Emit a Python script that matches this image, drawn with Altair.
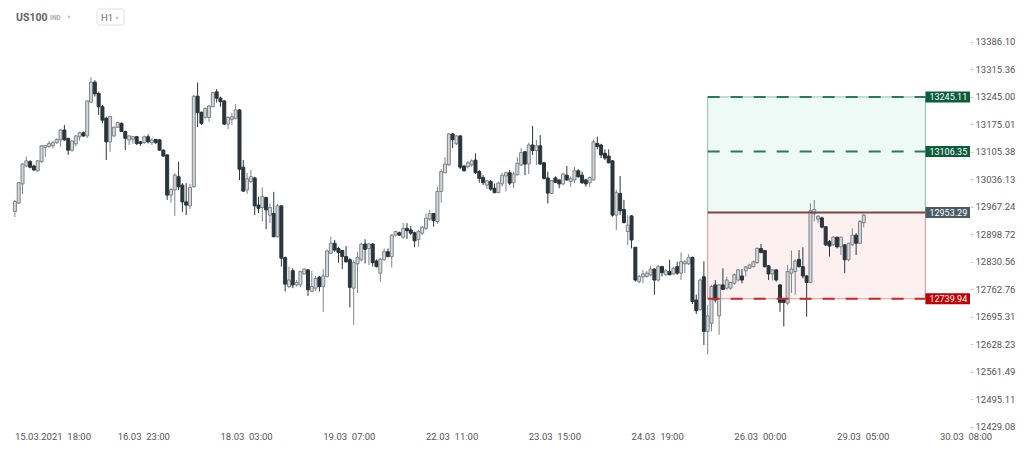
import altair as alt
import pandas as pd

# ---------------- data ----------------
opens = [12956, 12977, 13025, 13070, 13081, 13070, 13058, 13081, 13117, 13119,
         13121, 13129, 13136, 13161, 13140, 13110, 13126, 13144, 13154, 13146,
         13232, 13283, 13254, 13220, 13191, 13131, 13146, 13168, 13178, 13157,
         13136, 13138, 13144, 13131, 13129, 13144, 13129, 13137, 13136, 13110,
         13098, 12997, 13010, 13043, 13022, 12980, 12970, 13018, 13247, 13206,
         13193, 13193, 13220, 13258, 13242, 13235, 13176, 13188, 13191, 13212,
         13067, 13010, 13031, 13040, 12972, 12966, 12991, 12947, 12951, 12893,
         12970, 12841, 12770, 12809, 12774, 12774, 12801, 12811, 12758, 12766,
         12793, 12770, 12794, 12852, 12877, 12864, 12859, 12844, 12836, 12766,
         12826, 12836, 12875, 12864, 12875, 12833, 12803, 12836, 12856, 12844,
         12897, 12903, 12892, 12914, 12910, 12903, 12886, 12902, 12914, 12937,
         12951, 12931, 13006, 13053, 13073, 13151, 13126, 13146, 13070, 13068,
         13073, 13085, 13056, 13041, 13022, 13031, 13014, 13003, 13025, 13045,
         13053, 13028, 13048, 13073, 13106, 13075, 13123, 13109, 13121, 13078,
         13040, 13001, 13040, 13035, 13025, 13047, 13031, 13035, 13058, 13047,
         13035, 13028, 13035, 13127, 13123, 13102, 13095, 13083, 12947, 13001,
         12961, 12906, 12945, 12867, 12782, 12794, 12795, 12799, 12813, 12786,
         12819, 12799, 12807, 12801, 12819, 12803, 12826, 12826, 12842, 12737,
         12713, 12794, 12660, 12680, 12774, 12698, 12774, 12766, 12766, 12778,
         12786, 12796, 12809, 12815, 12819, 12829, 12864, 12859, 12821, 12801,
         12811, 12774, 12739, 12729, 12803, 12807, 12837, 12819, 12796, 12780,
         12950, 12937, 12940, 12918, 12881, 12873, 12892, 12868, 12873, 12836,
         12873, 12897, 12877, 12928]
highs = [12985, 13030, 13078, 13094, 13085, 13073, 13085, 13123, 13123, 13134,
         13134, 13140, 13163, 13174, 13141, 13136, 13148, 13157, 13157, 13237,
         13295, 13288, 13259, 13225, 13195, 13197, 13170, 13182, 13180, 13159,
         13148, 13146, 13146, 13133, 13147, 13150, 13140, 13138, 13138, 13112,
         13099, 13014, 13052, 13081, 13027, 13027, 13025, 13250, 13282, 13208,
         13218, 13225, 13259, 13265, 13246, 13237, 13196, 13204, 13227, 13214,
         13085, 13052, 13060, 13043, 12993, 13016, 12993, 12976, 13005, 12975,
         12972, 12844, 12819, 12815, 12786, 12809, 12815, 12813, 12809, 12796,
         12796, 12813, 12862, 12893, 12885, 12868, 12860, 12870, 12840, 12836,
         12856, 12878, 12887, 12877, 12877, 12837, 12840, 12864, 12864, 12900,
         12908, 12906, 12928, 12927, 12920, 12906, 12910, 12920, 12951, 12960,
         12952, 13018, 13062, 13092, 13153, 13153, 13148, 13148, 13073, 13083,
         13087, 13102, 13060, 13047, 13035, 13035, 13026, 13031, 13053, 13056,
         13060, 13056, 13092, 13115, 13108, 13129, 13171, 13136, 13148, 13081,
         13056, 13035, 13044, 13036, 13053, 13070, 13044, 13068, 13062, 13056,
         13038, 13044, 13137, 13144, 13126, 13112, 13112, 13085, 13010, 13045,
         12985, 12947, 12947, 12868, 12799, 12811, 12809, 12821, 12815, 12823,
         12821, 12813, 12836, 12819, 12831, 12854, 12836, 12850, 12844, 12750,
         12790, 12832, 12725, 12774, 12786, 12776, 12815, 12794, 12782, 12803,
         12813, 12813, 12821, 12826, 12834, 12867, 12875, 12860, 12823, 12813,
         12813, 12776, 12741, 12823, 12859, 12837, 12860, 12867, 12799, 12976,
         12985, 12947, 12943, 12920, 12885, 12895, 12893, 12893, 12875, 12878,
         12914, 12902, 12935, 12950]
lows = [12942, 12975, 13000, 13067, 13064, 13058, 13056, 13078, 13093, 13116,
        13114, 13126, 13119, 13134, 13098, 13106, 13119, 13134, 13144, 13141,
        13229, 13246, 13199, 13178, 13085, 13106, 13144, 13166, 13156, 13110,
        13123, 13126, 13123, 13121, 13126, 13127, 13123, 13126, 13109, 13094,
        12985, 12978, 12945, 13010, 12955, 12947, 12962, 13016, 13169, 13174,
        13190, 13182, 13219, 13231, 13220, 13174, 13163, 13174, 13188, 13035,
        13005, 13000, 13027, 12947, 12952, 12931, 12912, 12927, 12892, 12891,
        12819, 12758, 12766, 12766, 12770, 12768, 12799, 12747, 12757, 12759,
        12758, 12708, 12793, 12850, 12856, 12829, 12813, 12829, 12719, 12676,
        12754, 12832, 12827, 12823, 12819, 12817, 12782, 12834, 12842, 12817,
        12894, 12896, 12888, 12888, 12897, 12867, 12869, 12897, 12910, 12933,
        12918, 12925, 12978, 13052, 13070, 13115, 13123, 13062, 13056, 13064,
        13068, 13050, 13028, 13022, 13012, 13008, 13002, 13002, 13018, 13006,
        13022, 13014, 13046, 13070, 13047, 13050, 13098, 13073, 13073, 13036,
        12976, 13000, 13027, 13014, 13022, 13033, 13018, 13027, 13041, 13025,
        13018, 13018, 13034, 13112, 13090, 13085, 13077, 12943, 12910, 12947,
        12927, 12873, 12864, 12782, 12778, 12778, 12791, 12795, 12750, 12782,
        12795, 12796, 12798, 12799, 12799, 12786, 12803, 12823, 12727, 12703,
        12711, 12627, 12604, 12660, 12731, 12652, 12762, 12762, 12762, 12774,
        12782, 12778, 12795, 12813, 12817, 12826, 12852, 12817, 12786, 12785,
        12782, 12708, 12672, 12724, 12754, 12750, 12817, 12790, 12696, 12778,
        12931, 12927, 12914, 12870, 12844, 12870, 12864, 12848, 12803, 12832,
        12870, 12848, 12875, 12916]
closes = [12981, 13028, 13075, 13083, 13067, 13060, 13083, 13121, 13122, 13127,
          13129, 13137, 13161, 13136, 13110, 13133, 13146, 13154, 13146, 13235,
          13283, 13253, 13220, 13186, 13131, 13195, 13168, 13180, 13157, 13140,
          13146, 13144, 13127, 13127, 13144, 13131, 13136, 13129, 13110, 13095,
          12997, 13011, 13047, 13018, 12980, 12972, 13016, 13247, 13205, 13178,
          13216, 13222, 13256, 13242, 13233, 13176, 13193, 13195, 13212, 13062,
          13007, 13038, 13043, 12970, 12964, 12993, 12960, 12966, 12893, 12970,
          12840, 12776, 12786, 12774, 12780, 12807, 12813, 12762, 12770, 12790,
          12770, 12796, 12858, 12877, 12860, 12854, 12844, 12831, 12768, 12829,
          12842, 12875, 12862, 12875, 12829, 12819, 12837, 12856, 12844, 12897,
          12906, 12897, 12914, 12908, 12902, 12883, 12906, 12917, 12939, 12951,
          12933, 13006, 13056, 13075, 13151, 13137, 13146, 13067, 13058, 13078,
          13083, 13053, 13039, 13028, 13033, 13012, 13003, 13027, 13047, 13053,
          13027, 13050, 13077, 13104, 13075, 13123, 13109, 13121, 13075, 13039,
          13002, 13033, 13029, 13025, 13050, 13035, 13038, 13058, 13043, 13028,
          13025, 13041, 13131, 13119, 13098, 13090, 13078, 12947, 13003, 12958,
          12928, 12922, 12885, 12786, 12795, 12801, 12803, 12813, 12786, 12819,
          12804, 12809, 12799, 12815, 12803, 12831, 12831, 12842, 12733, 12711,
          12786, 12660, 12698, 12770, 12737, 12774, 12763, 12786, 12780, 12799,
          12811, 12786, 12818, 12823, 12831, 12864, 12854, 12819, 12801, 12811,
          12786, 12731, 12731, 12807, 12813, 12833, 12819, 12796, 12780, 12958,
          12961, 12944, 12917, 12873, 12870, 12892, 12868, 12892, 12836, 12877,
          12897, 12877, 12931, 12947]

ytick_values = [13386.10, 13315.36, 13245.00, 13175.01, 13105.38, 13036.13,
                12967.24, 12898.72, 12830.56, 12762.76, 12695.31, 12628.23,
                12561.49, 12495.11, 12429.08]

xlabel_idx = [0, 27, 54, 81, 108, 135, 162, 189, 216, 243]
xlabel_text = ["15.03.2021\u00a0\u00a018:00", "16.03\u00a0\u00a023:00", "18.03\u00a0\u00a003:00",
               "19.03\u00a0\u00a007:00", "22.03\u00a0\u00a011:00", "23.03\u00a0\u00a015:00",
               "24.03\u00a0\u00a019:00", "26.03\u00a0\u00a000:00", "29.03\u00a0\u00a005:00",
               "30.03\u00a0\u00a008:00"]

take_profit_1 = 13245.11
take_profit_2 = 13106.35
entry_price = 12953.29
stop_loss = 12739.94
box_start = 182
box_end = 239.2

symbol = "US100"
symbol_kind = "IND"
interval = "H1"

# ---------------- layout / style ----------------
W, H = 962, 428
X_DOMAIN = [-0.5, 249.6]
Y_DOMAIN = [12407.5, 13474.08]
UP_FILL, UP_STROKE, DOWN = "#d3d7da", "#7d8489", "#29353b"
FONT = "Roboto"

candles = pd.DataFrame({"idx": list(range(len(opens))), "open": opens,
                        "high": highs, "low": lows, "close": closes})
candles["dir"] = ["up" if c >= o else "down" for o, c in zip(opens, closes)]

xs = alt.Scale(domain=X_DOMAIN, nice=False, zero=False)
ys = alt.Scale(type="log", domain=Y_DOMAIN, nice=False, zero=False)
yaxis = alt.Axis(orient="right", values=ytick_values, format=".2f", tickSize=3,
                 tickColor="#cfd2d4", domain=False, grid=False, labelPadding=2,
                 labelFontSize=9.5, labelColor="#555555", labelFont=FONT,
                 labelFlush=False, labelOverlap=False, labelBound=False, title=None)


def X(field):
    return alt.X(field, type="quantitative", scale=xs, axis=None, title=None)


def Y(field):
    return alt.Y(field, type="quantitative", scale=ys, axis=yaxis, title=None)


dir_stroke = alt.Scale(domain=["up", "down"], range=[UP_STROKE, DOWN])
dir_fill = alt.Scale(domain=["up", "down"], range=[UP_FILL, DOWN])

# boxes
boxes = pd.DataFrame({"x0": [box_start, box_start], "x1": [box_end, box_end],
                      "y0": [entry_price, stop_loss], "y1": [take_profit_1, entry_price],
                      "fill": ["#eefaf5", "#fdf0f0"], "edge": ["#8cc2aa", "#e29696"]})
box_layer = alt.Chart(boxes).mark_rect(strokeWidth=1).encode(
    x=X("x0"), x2="x1", y=Y("y0"), y2="y1",
    fill=alt.Fill("fill:N", scale=None), stroke=alt.Stroke("edge:N", scale=None))

wicks = alt.Chart(candles).mark_rule(strokeWidth=1, clip=True).encode(
    x=X("idx"), y=Y("low"), y2="high",
    color=alt.Color("dir:N", scale=dir_stroke, legend=None))

bodies = alt.Chart(candles).mark_bar(size=3, strokeWidth=1, clip=True).encode(
    x=X("idx"), y=Y("open"), y2="close",
    fill=alt.Fill("dir:N", scale=dir_fill, legend=None),
    stroke=alt.Stroke("dir:N", scale=dir_stroke, legend=None))

dashed = pd.DataFrame({"x0": [box_start] * 3, "x1": [box_end] * 3,
                       "price": [take_profit_1, take_profit_2, stop_loss],
                       "col": ["#2b7a57", "#2b7a57", "#c62828"]})
dash_layer = alt.Chart(dashed).mark_rule(strokeWidth=2, strokeDash=[12, 11]).encode(
    x=X("x0"), x2="x1", y=Y("price"), color=alt.Color("col:N", scale=None))

entry = pd.DataFrame({"x0": [box_start], "x1": [box_end], "price": [entry_price]})
entry_layer = alt.Chart(entry).mark_rule(strokeWidth=2, color="#7a4b44").encode(
    x=X("x0"), x2="x1", y=Y("price"))

tags = pd.DataFrame({"x0": [box_end] * 4,
                     "price": [take_profit_1, take_profit_2, entry_price, stop_loss],
                     "col": ["#0b5d3b", "#0b5d3b", "#4b5b65", "#c00000"]})
tags["label"] = [f"{p:.2f}" for p in tags["price"]]
tag_bg = alt.Chart(tags).mark_rule(strokeWidth=11, strokeCap="butt").encode(
    x=X("x0"), x2=alt.value(W), y=Y("price"), color=alt.Color("col:N", scale=None))
tag_txt = alt.Chart(tags).mark_text(align="left", baseline="middle", dx=4, fontSize=9,
                                    font=FONT, color="white").encode(
    x=X("x0"), y=Y("price"), text="label:N")

xlabels = pd.DataFrame({"idx": xlabel_idx, "label": xlabel_text})
xlabel_layer = alt.Chart(xlabels).mark_text(align="left", baseline="alphabetic",
                                            fontSize=9.5, font=FONT, color="#555555").encode(
    x=X("idx"), y=alt.value(432), text="label:N")

# header
hdr_sym = alt.Chart(pd.DataFrame({"t": [symbol]})).mark_text(
    align="left", baseline="alphabetic", fontSize=10.5, fontWeight="bold", font=FONT,
    color="#5f6468").encode(x=alt.value(8), y=alt.value(13), text="t:N")
hdr_kind = alt.Chart(pd.DataFrame({"t": [symbol_kind]})).mark_text(
    align="left", baseline="alphabetic", fontSize=6.5, fontWeight="bold", font=FONT,
    color="#a6abaf").encode(x=alt.value(42), y=alt.value(12), text="t:N")
hdr_arrow1 = alt.Chart(pd.DataFrame({"t": ["\u25bc"]})).mark_text(
    align="center", baseline="middle", fontSize=5.5, color="#c3c7ca").encode(
    x=alt.value(61), y=alt.value(9), text="t:N")
hdr_box = alt.Chart(pd.DataFrame({"t": [interval]})).mark_rect(
    fill="white", stroke="#dde0e3", strokeWidth=1, cornerRadius=2).encode(
    x=alt.value(89), x2=alt.value(116), y=alt.value(1), y2=alt.value(17))
hdr_int = alt.Chart(pd.DataFrame({"t": [interval]})).mark_text(
    align="left", baseline="alphabetic", fontSize=9.5, font=FONT,
    color="#6a6f73").encode(x=alt.value(93), y=alt.value(13), text="t:N")
hdr_arrow2 = alt.Chart(pd.DataFrame({"t": ["\u25bc"]})).mark_text(
    align="center", baseline="middle", fontSize=5.5, color="#c3c7ca").encode(
    x=alt.value(109), y=alt.value(9.5), text="t:N")

chart = alt.layer(
    box_layer, wicks, bodies, dash_layer, entry_layer, tag_bg, tag_txt, xlabel_layer,
    hdr_box, hdr_sym, hdr_kind, hdr_arrow1, hdr_int, hdr_arrow2
).properties(
    width=W, height=H, padding=0, background="white"
).configure_view(stroke=None)

chart.save("out.html", embed_options={"renderer": "svg", "actions": False})
